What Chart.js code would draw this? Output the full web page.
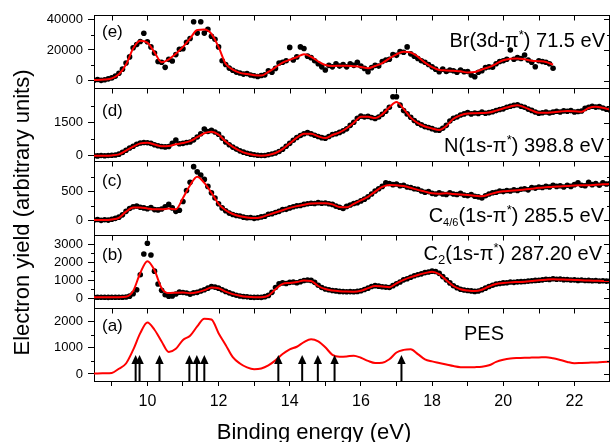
<!DOCTYPE html>
<html><head><meta charset="utf-8">
<script src="https://cdn.jsdelivr.net/npm/chart.js@4.4.1/dist/chart.umd.min.js"></script>
<style>html,body{margin:0;padding:0;background:#fff;overflow:hidden;width:610px;height:442px}canvas{display:block}</style>
</head><body><canvas id="c" width="616" height="442" style="width:616px;height:442px"></canvas>
<script>
// ---------------- DATA ----------------
const xTickMarks = [9,10,11,12,13,14,15,16,17,18,19,20,21,22,23];
const xTickLabels = [10,12,14,16,18,20,22];

const eTicks=[0,20000,40000], eMinor=[10000,30000];
const dTicks=[0,1500], dMinor=[750,2250];
const cTicks=[0,500], cMinor=[250,750];
const bTicks=[0,1000,2000,3000], bMinor=[500,1500,2500];
const aTicks=[0,1000,2000], aMinor=[500,1500];

// energies of measured points (eV)
const dotEnergy = [
 8.5,8.6,8.7,8.8,8.9,9.0,9.1,9.2,9.3,9.4,
 9.5,9.6,9.7,9.8,9.9,10.0,10.1,10.2,10.3,10.4,
 10.5,10.6,10.7,10.8,10.9,11.0,11.1,11.2,11.3,11.4,
 11.5,11.6,11.7,11.8,11.9,12.0,12.1,12.2,12.3,12.4,
 12.5,12.6,12.7,12.8,12.9,13.0,13.1,13.2,13.3,13.4,
 13.5,13.6,13.7,13.8,13.9,14.0,14.1,14.2,14.3,14.4,
 14.5,14.6,14.7,14.8,14.9,15.0,15.1,15.2,15.3,15.4,
 15.5,15.6,15.7,15.8,15.9,16.0,16.1,16.2,16.3,16.4,
 16.5,16.6,16.7,16.8,16.9,17.0,17.1,17.2,17.3,17.4,
 17.5,17.6,17.7,17.8,17.9,18.0,18.1,18.2,18.3,18.4,
 18.5,18.6,18.7,18.8,18.9,19.0,19.1,19.2,19.3,19.4,
 19.5,19.6,19.7,19.8,19.9,20.0,20.1,20.2,20.3,20.4,
 20.5,20.6,20.7,20.8,20.9,21.0,21.1,21.2,21.3,21.4,
 21.5,21.6,21.7,21.8,21.9,22.0,22.1,22.2,22.3,22.4,
 22.5,22.6,22.7,22.8,22.9,23.0];
// energies of fitted curves (eV)
const fitEnergy = [
 8.4,8.6,8.8,9.0,9.2,9.4,9.6,9.8,10.0,10.2,
 10.4,10.6,10.8,11.0,11.2,11.4,11.6,11.8,12.0,12.2,
 12.4,12.6,12.8,13.0,13.2,13.4,13.6,13.8,14.0,14.2,
 14.4,14.6,14.8,15.0,15.2,15.4,15.6,15.8,16.0,16.2,
 16.4,16.6,16.8,17.0,17.2,17.4,17.6,17.8,18.0,18.2,
 18.4,18.6,18.8,19.0,19.2,19.4,19.6,19.8,20.0,20.2,
 20.4,20.6,20.8,21.0,21.2,21.4,21.6,21.8,22.0,22.2,
 22.4,22.6,22.8,23.0];

// (e) Br(3d-pi*) 71.5 eV
const brDots = [
 300,800,200,600,1200,1800,3000,4800,7500,11500,
 15500,21500,23500,25500,30900,25400,22000,18000,12500,12000,
 8700,13900,12800,17000,20500,20800,25000,27500,38400,31000,
 38400,31000,33500,29000,27000,22000,13000,10500,8200,6800,
 5600,5000,4300,4600,3700,3200,2700,3400,3800,6400,
 5500,8000,11500,12000,13000,21700,13500,15500,22000,21000,
 16000,15000,13000,11000,9000,7000,10000,9000,11000,9500,
 10500,9000,11000,10000,12000,9500,8000,5900,8500,10000,
 9500,12500,13500,14000,17000,16500,19000,18500,22000,17500,
 16000,14500,13000,12000,10500,9000,7500,5900,7500,6000,
 7000,6500,5500,7000,5800,6000,3700,2600,5500,6500,
 8500,9000,8800,11000,12500,13000,14000,20000,14000,15000,
 14500,16700,13500,12000,9100,13000,12500,12000,11000,8100];
const brFit = [
 500,500,700,1500,4200,10500,21000,26000,24800,18500,
 12000,13900,17500,22000,27500,33000,33300,30500,22000,11000,
 7200,5100,4300,3600,3300,5700,8700,11800,13600,15300,
 17200,15600,12500,10200,9600,9700,9800,9400,8900,8100,
 9600,11500,14500,17200,18800,18400,15600,11800,8900,7000,
 6700,6400,6100,5300,5600,7300,8800,11000,13300,14300,
 14500,13900,13000,12700,12200,10400];

// (d) N(1s-pi*) 398.8 eV
const nDots = [
 0,-10,10,0,10,20,30,70,150,250,
 350,430,520,580,600,590,560,500,450,420,
 400,420,560,710,540,560,600,620,720,850,
 1000,1210,1100,1150,1080,980,800,620,500,390,
 300,220,160,110,70,40,20,10,10,40,
 80,120,190,290,430,560,700,830,920,1000,
 1050,990,930,870,820,790,870,960,1000,1060,
 1130,1220,1380,1520,1700,1800,1760,1790,1740,1690,
 1760,1880,2020,2200,2680,2680,2300,2050,1900,1750,
 1600,1480,1400,1320,1280,1230,1170,1160,1250,1380,
 1580,1700,1760,1850,1900,1960,1900,1940,1920,1980,
 1930,1960,2000,2050,2100,2130,2200,2250,2290,2320,
 2250,2200,2120,2060,1990,1930,1950,1990,1940,1980,
 2020,1990,2040,2020,2050,1990,2010,2030,2150,2200,
 2250,2210,2230,2170,2110,2080];
const nFit = [
 0,0,0,10,60,230,410,560,590,510,
 430,440,520,575,660,840,1020,1090,960,640,
 400,220,100,30,0,30,120,300,560,820,
 1000,1000,880,800,940,1060,1250,1500,1770,1770,
 1710,1880,2200,2440,2130,1730,1480,1330,1240,1170,
 1350,1680,1840,1920,1930,1940,1960,2050,2150,2240,
 2300,2200,2060,1950,1950,1980,2010,2030,2020,2000,
 2170,2230,2180,2100];

// (c) C4/6(1s-pi*) 285.5 eV
const c46Dots = [
 0,10,-5,5,0,15,30,50,90,150,
 200,230,240,220,210,195,215,180,175,190,
 230,270,210,150,170,320,510,650,920,830,
 775,700,580,470,380,280,210,160,120,95,
 80,70,50,40,45,30,40,55,65,100,
 110,130,150,180,185,210,230,245,250,270,
 280,290,285,300,290,295,280,270,240,220,
 200,235,260,285,300,330,360,400,450,500,
 540,580,640,630,610,620,590,600,570,560,
 540,530,500,480,490,460,450,470,450,440,
 470,450,440,460,430,420,440,410,400,380,
 420,450,470,480,500,490,510,500,520,510,
 530,540,520,560,550,570,560,580,570,600,
 580,590,570,600,580,610,640,600,590,650,
 610,630,600,640,620,630];
const c46Fit = [
 0,0,0,10,40,145,215,215,200,185,
 185,200,185,380,600,745,640,470,280,170,
 105,65,45,35,50,90,130,170,210,240,
 265,285,290,290,270,225,220,280,340,400,
 490,570,605,600,585,555,520,490,460,455,
 460,450,440,430,420,410,440,475,495,505,
 515,525,540,555,565,575,580,585,595,600,
 600,610,615,620];

// (b) C2(1s-pi*) 287.20 eV
const c2Dots = [
 50,60,55,60,50,60,55,60,60,70,
 120,250,470,1300,2450,3040,2390,1500,790,440,
 200,120,130,240,340,320,290,230,300,330,
 400,470,560,650,620,560,470,380,300,230,
 170,130,100,80,60,50,60,50,90,160,
 330,600,800,850,820,880,900,860,920,980,
 1010,990,880,720,600,510,470,430,410,380,
 370,360,370,360,380,420,490,560,650,700,
 670,640,620,600,700,800,900,1020,1080,1160,
 1250,1300,1350,1420,1450,1500,1480,1380,1200,1020,
 850,690,580,500,460,430,410,380,400,470,
 560,650,720,790,820,850,860,900,880,910,
 920,930,950,970,990,1000,1020,1050,1040,1080,
 1050,1060,1030,1040,1010,1020,990,1010,980,990,
 970,980,960,970,950,960];
const c2Fit = [
 60,60,60,60,60,80,400,1400,2050,1550,
 560,290,310,320,280,330,450,590,560,365,
 230,140,80,55,60,150,500,800,850,900,
 980,960,680,510,430,390,370,365,420,560,
 680,650,610,830,1020,1170,1290,1390,1470,1330,
 1000,680,500,430,400,470,650,790,840,880,
 900,920,960,1000,1030,1050,1040,1030,1010,1000,
 980,970,960,955];

// (a) PES
const pes = [
 20,20,25,40,200,400,920,1560,1970,1690,
 1240,840,960,1300,1460,1820,2110,2080,1560,1110,
 640,400,250,180,210,330,520,760,940,1040,
 1220,1330,1250,1020,730,660,670,700,620,500,
 420,430,560,820,920,945,760,560,480,420,
 360,300,260,255,260,275,330,460,540,590,
 610,620,625,630,640,600,535,460,410,420,
 430,440,460,470];
// calculated ionisation energies (arrows, eV)
const arrowEnergies = [9.67,9.78,10.34,11.18,11.39,11.6,13.68,14.35,14.79,15.26,17.14];

// ---------------- CHART ----------------
const FONT = "'Liberation Sans', Arial, Helvetica, sans-serif";
function pts(xs, ys){ return ys.map((y,i)=>({x:xs[i], y:y})); }
const lineStyle = {showLine:true, borderColor:'#ff0000', borderWidth:2, pointRadius:0, cubicInterpolationMode:'monotone', fill:false, order:0};
const dotStyle = {showLine:false, pointRadius:2.8, pointBackgroundColor:'#000', pointBorderWidth:0, pointBorderColor:'#000', order:1};

const panels = [
  {id:'yA', min:-270, max:2530, major:aTicks, minor:aMinor},
  {id:'yB', min:-525, max:3520, major:bTicks, minor:bMinor},
  {id:'yC', min:-250, max:1010, major:cTicks, minor:cMinor},
  {id:'yD', min:-260, max:3070, major:dTicks, minor:dMinor},
  {id:'yE', min:-4900, max:42800, major:eTicks, minor:eMinor}
];

const scales = {
  x: {
    type:'linear', position:'bottom', min:8.5, max:23,
    afterBuildTicks: s => { s.ticks = xTickMarks.map(v=>({value:v})); },
    afterFit: s => { s.height = 61; },
    grid:{drawOnChartArea:false, drawTicks:true, tickLength:5, color:'#000', lineWidth:1},
    border:{display:true, color:'#000', width:1},
    ticks:{autoSkip:false, maxRotation:0, padding:6, color:'#000', font:{family:FONT, size:16},
      callback: v => xTickLabels.includes(v) ? String(v) : ''}
  }
};
panels.forEach(p => {
  scales[p.id] = {
    type:'linear', position:'left', stack:'panels', stackWeight:1, min:p.min, max:p.max,
    afterBuildTicks: s => { s.ticks = p.major.map(v=>({value:v})); },
    afterFit: s => { s.width = 94; },
    grid:{drawOnChartArea:false, drawTicks:true, tickLength:6, color:'#000', lineWidth:1},
    border:{display:true, color:'#000', width:1},
    ticks:{autoSkip:false, padding:5, color:'#000', font:{family:FONT, size:13}, callback: v => String(v)}
  };
});

function drawRich(ctx, segs, x, baseline, align){
  let total = 0;
  segs.forEach(s => { ctx.font = s.size + 'px ' + FONT; s.w = ctx.measureText(s.t).width; total += s.w; });
  let cx = align === 'right' ? x - total : (align === 'center' ? x - total/2 : x);
  segs.forEach(s => {
    ctx.font = s.size + 'px ' + FONT;
    ctx.textAlign = 'left'; ctx.textBaseline = 'alphabetic';
    ctx.fillText(s.t, cx, baseline + (s.dy || 0));
    cx += s.w;
  });
}

const decor = {
  id:'decor',
  afterDraw(chart){
    const ctx = chart.ctx, xs = chart.scales.x;
    const L = chart.chartArea.left, R = chart.chartArea.right;
    ctx.save();
    ctx.strokeStyle = '#000'; ctx.fillStyle = '#000'; ctx.lineWidth = 1;
    panels.forEach(p => {
      const s = chart.scales[p.id];
      const top = Math.round(s.top) + 0.5, bot = Math.round(s.bottom) + 0.5;
      ctx.beginPath();
      ctx.moveTo(L, top); ctx.lineTo(R, top);
      ctx.moveTo(L, bot); ctx.lineTo(R, bot);
      ctx.moveTo(Math.round(R)-0.5, top); ctx.lineTo(Math.round(R)-0.5, bot);
      // inward x ticks on the top of each panel
      xTickMarks.forEach(v => { const px = Math.round(xs.getPixelForValue(v)) + 0.5; ctx.moveTo(px, top); ctx.lineTo(px, top + 5); });
      // right inward y ticks
      p.major.forEach(v => { const py = Math.round(s.getPixelForValue(v)) + 0.5; ctx.moveTo(R, py); ctx.lineTo(R - 6, py); });
      p.minor.forEach(v => { const py = Math.round(s.getPixelForValue(v)) + 0.5; ctx.moveTo(R, py); ctx.lineTo(R - 3, py);
        ctx.moveTo(L, py); ctx.lineTo(L - 3, py); });
      ctx.stroke();
    });
    // arrows in PES panel
    const ya = chart.scales.yA;
    arrowEnergies.forEach(e => {
      const px = xs.getPixelForValue(e);
      const tip = ya.getPixelForValue(720);
      ctx.lineWidth = 2;
      ctx.beginPath(); ctx.moveTo(px, ya.bottom); ctx.lineTo(px, tip + 6); ctx.stroke();
      ctx.beginPath(); ctx.moveTo(px, tip); ctx.lineTo(px - 4.2, tip + 9); ctx.lineTo(px + 4.2, tip + 9); ctx.closePath(); ctx.fill();
    });
    // panel letters
    ctx.font = '17px ' + FONT; ctx.textAlign = 'left'; ctx.textBaseline = 'alphabetic';
    ctx.fillText('(e)', 102, 37);
    ctx.fillText('(d)', 102, 116);
    ctx.fillText('(c)', 102, 186);
    ctx.fillText('(b)', 102, 259.5);
    ctx.fillText('(a)', 102, 331);
    // spectrum labels
    drawRich(ctx, [{t:'Br(3d-\u03c0',size:20},{t:'*',size:13,dy:-8},{t:') 71.5 eV',size:20}], 605, 46.5, 'right');
    drawRich(ctx, [{t:'N(1s-\u03c0',size:20},{t:'*',size:13,dy:-8},{t:') 398.8 eV',size:20}], 604, 152, 'right');
    drawRich(ctx, [{t:'C',size:20},{t:'4/6',size:11,dy:4},{t:'(1s-\u03c0',size:20},{t:'*',size:13,dy:-8},{t:') 285.5 eV',size:20}], 604, 222, 'right');
    drawRich(ctx, [{t:'C',size:20},{t:'2',size:13,dy:4},{t:'(1s-\u03c0',size:20},{t:'*',size:13,dy:-8},{t:') 287.20 eV',size:20}], 602, 260, 'right');
    drawRich(ctx, [{t:'PES',size:20}], 484, 340, 'center');
    // axis titles
    ctx.font = '22px ' + FONT; ctx.textAlign = 'center'; ctx.textBaseline = 'alphabetic';
    ctx.fillText('Binding energy (eV)', 314, 438.5);
    ctx.save(); ctx.translate(28.5, 212.5); ctx.rotate(-Math.PI/2);
    ctx.fillText('Electron yield (arbitrary units)', 0, 0);
    ctx.restore();
    ctx.restore();
  }
};

new Chart(document.getElementById('c'), {
  type:'line',
  data:{datasets:[
    Object.assign({label:'PES', data:pts(fitEnergy, pes), yAxisID:'yA'}, lineStyle),
    Object.assign({label:'C2 fit', data:pts(fitEnergy, c2Fit), yAxisID:'yB'}, lineStyle),
    Object.assign({label:'C4/6 fit', data:pts(fitEnergy, c46Fit), yAxisID:'yC'}, lineStyle),
    Object.assign({label:'N fit', data:pts(fitEnergy, nFit), yAxisID:'yD'}, lineStyle),
    Object.assign({label:'Br fit', data:pts(fitEnergy, brFit), yAxisID:'yE'}, lineStyle),
    Object.assign({label:'C2', data:pts(dotEnergy, c2Dots), yAxisID:'yB'}, dotStyle),
    Object.assign({label:'C4/6', data:pts(dotEnergy, c46Dots), yAxisID:'yC'}, dotStyle),
    Object.assign({label:'N', data:pts(dotEnergy, nDots), yAxisID:'yD'}, dotStyle),
    Object.assign({label:'Br', data:pts(dotEnergy, brDots), yAxisID:'yE'}, dotStyle)
  ]},
  options:{
    responsive:false, animation:false, devicePixelRatio:1,
    layout:{padding:{top:15, right:2, left:0, bottom:0}},
    plugins:{legend:{display:false}, tooltip:{enabled:false}, title:{display:false}},
    scales: scales
  },
  plugins:[decor]
});
</script></body></html>
